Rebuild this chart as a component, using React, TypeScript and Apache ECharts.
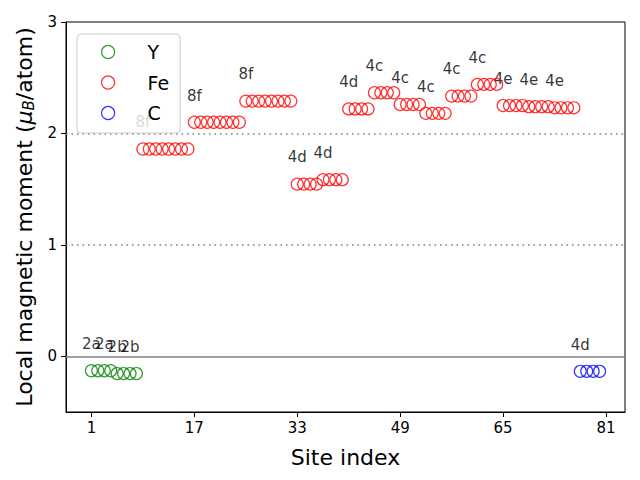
import React, { useEffect, useRef } from 'react';
import * as echarts from 'echarts';

// ---- data ----
const ySiteStart = 1;
const yValues = [-0.13, -0.13, -0.13, -0.13, -0.155, -0.155, -0.155, -0.155];

const feSiteStart = 9;
const feValues = [
  1.86, 1.86, 1.86, 1.86, 1.86, 1.86, 1.86, 1.86,
  2.1, 2.1, 2.1, 2.1, 2.1, 2.1, 2.1, 2.1,
  2.29, 2.29, 2.29, 2.29, 2.29, 2.29, 2.29, 2.29,
  1.545, 1.545, 1.545, 1.545,
  1.585, 1.585, 1.585, 1.585,
  2.22, 2.22, 2.22, 2.22,
  2.365, 2.365, 2.365, 2.365,
  2.26, 2.26, 2.26, 2.26,
  2.18, 2.18, 2.18, 2.18,
  2.335, 2.335, 2.335, 2.335,
  2.44, 2.44, 2.44, 2.44,
  2.25, 2.25, 2.25, 2.25,
  2.24, 2.24, 2.24, 2.24,
  2.23, 2.23, 2.23, 2.23,
];

const cSiteStart = 77;
const cValues = [-0.135, -0.135, -0.135, -0.135];

const labelSites = [1, 3, 5, 7, 9, 17, 25, 33, 37, 41, 45, 49, 53, 57, 61, 65, 69, 73, 77];
const labelTexts = ['2a', '2a', '2b', '2b', '8f', '8f', '8f', '4d', '4d', '4d', '4c', '4c', '4c', '4c', '4c', '4e', '4e', '4e', '4d'];
const labelLift = 0.2;

const xTicks = [1, 17, 33, 49, 65, 81];
const yTicks = [0, 1, 2, 3];
const dottedLines = [1, 2];
const zeroLine = 0;

const seriesNames = ['Y', 'Fe', 'C'];
const seriesColors = ['#008000', '#ff0000', '#0000ff'];

const FONT = 'DejaVu Sans';

function toPoints(start: number, values: number[]) {
  return values.map((v, i) => [start + i, v]);
}

export default function App() {
  const ref = useRef<HTMLDivElement>(null);
  useEffect(() => {
    document.body.style.margin = '0';
    if (!ref.current) return;
    const chart = echarts.init(ref.current, null, { renderer: 'svg' });

    const groups = [
      toPoints(ySiteStart, yValues),
      toPoints(feSiteStart, feValues),
      toPoints(cSiteStart, cValues),
    ];
    const all = new Map<number, number>();
    groups.forEach((g) => g.forEach(([s, v]) => all.set(s, v)));
    const labelData = labelSites.map((s, i) => ({
      value: [s, (all.get(s) ?? 0) + labelLift],
      name: labelTexts[i],
    }));

    const scatterSeries = groups.map((g, i) => ({
      name: seriesNames[i],
      type: 'scatter',
      data: g,
      symbol: 'circle',
      symbolSize: 12,
      z: 3,
      itemStyle: { color: 'rgba(0,0,0,0)', borderColor: seriesColors[i], borderWidth: 1.2 },
      emphasis: { disabled: true },
    }));

    const option: any = {
      animation: false,
      textStyle: { fontFamily: FONT },
      grid: {
        left: 66, right: 15, top: 22, bottom: 68,
        show: true, borderColor: '#000', borderWidth: 1, backgroundColor: 'transparent',
      },
      legend: {
        orient: 'vertical',
        left: 77,
        top: 34,
        padding: [8, 11, 10, 24],
        itemGap: 10.5,
        itemWidth: 69,
        itemHeight: 13,
        backgroundColor: 'rgba(255,255,255,0.8)',
        borderColor: '#cccccc',
        borderWidth: 1,
        borderRadius: 4,
        z: 10,
        textStyle: { fontSize: 19, lineHeight: 20, color: '#000', fontFamily: FONT },
        data: seriesNames.map((n, i) => ({
          name: n,
          icon: 'circle',
          itemStyle: { color: 'rgba(0,0,0,0)', borderColor: seriesColors[i], borderWidth: 1.2 },
        })),
      },
      xAxis: {
        type: 'value',
        min: -2.95,
        max: 83.95,
        name: 'Site index',
        nameLocation: 'middle',
        nameGap: 34,
        nameTextStyle: { fontSize: 22, color: '#000', fontFamily: FONT },
        axisLine: { show: true, onZero: false, lineStyle: { color: '#000', width: 1 } },
        axisTick: { show: true, length: 5, lineStyle: { color: '#000' }, customValues: xTicks },
        axisLabel: { color: '#000', fontSize: 15, margin: 8, customValues: xTicks, fontFamily: FONT },
        splitLine: { show: false },
      },
      yAxis: {
        type: 'value',
        min: -0.5,
        max: 3,
        name: 'Local magnetic moment ({mu|μ}{sub|B}/atom)',
        nameLocation: 'middle',
        nameGap: 18,
        nameTextStyle: {
          fontSize: 22, color: '#000', fontFamily: FONT,
          rich: {
            mu: { fontSize: 22, fontStyle: 'italic', color: '#000', fontFamily: FONT },
            sub: { fontSize: 15, fontStyle: 'italic', color: '#000', fontFamily: FONT, verticalAlign: 'bottom', padding: [10, 0, 0, 0] },
          },
        },
        axisLine: { show: true, onZero: false, lineStyle: { color: '#000', width: 1 } },
        axisTick: { show: true, length: 5, lineStyle: { color: '#000' }, customValues: yTicks },
        axisLabel: { color: '#000', fontSize: 15, margin: 9, customValues: yTicks, fontFamily: FONT },
        splitLine: { show: false },
      },
      series: [
        ...scatterSeries,
        {
          name: 'refLines',
          type: 'scatter',
          data: [],
          z: 2,
          markLine: {
            silent: true,
            symbol: ['none', 'none'],
            label: { show: false },
            animation: false,
            data: [
              { yAxis: zeroLine, lineStyle: { color: '#808080', width: 1.5, type: 'solid' } },
              ...dottedLines.map((v) => ({
                yAxis: v,
                lineStyle: { color: '#808080', width: 1.5, type: [1.6, 3.9] },
              })),
            ],
          },
        },
        {
          name: 'siteLabels',
          type: 'scatter',
          data: labelData,
          symbolSize: 1,
          z: 2,
          itemStyle: { color: 'rgba(0,0,0,0)' },
          label: {
            show: true,
            position: 'inside',
            align: 'center',
            verticalAlign: 'bottom',
            offset: [0, 3],
            formatter: (p: any) => p.name,
            fontSize: 15,
            color: '#000',
            fontFamily: FONT,
          },
          emphasis: { disabled: true },
        },
      ],
    };
    chart.setOption(option);
    return () => chart.dispose();
  }, []);
  return <div ref={ref} style={{ width: 640, height: 480 }} />;
}
